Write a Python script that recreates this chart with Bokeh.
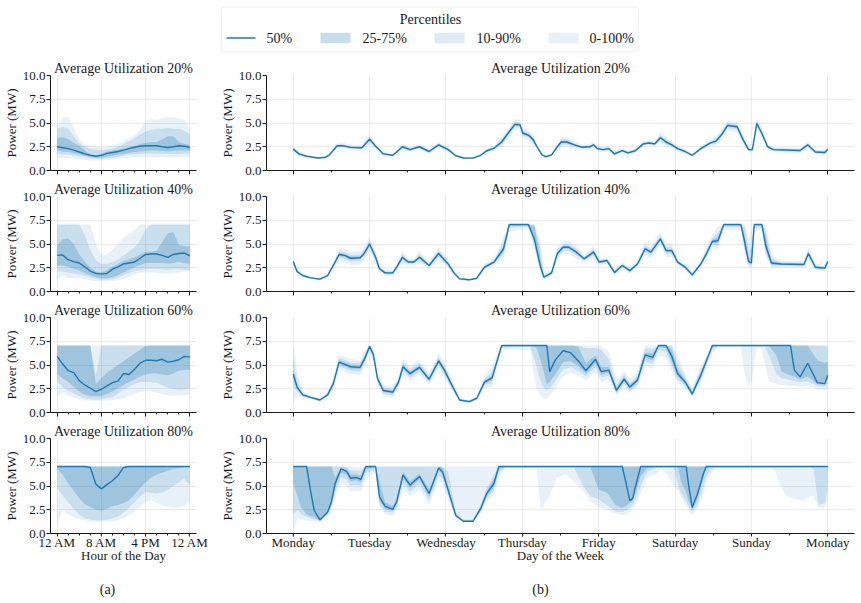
from bokeh.core.properties import value
from bokeh.embed import file_html
from bokeh.layouts import column, row
from bokeh.models import BoxAnnotation, CustomLabelingPolicy, FixedTicker, PrintfTickFormatter, Range1d
from bokeh.plotting import figure
from bokeh.resources import INLINE

FONT = "Liberation Serif"
BLUE = "#1f77b4"
INK = "#1a1a1a"
GRID = "#ececec"

UTILIZATIONS = ["20%", "40%", "60%", "80%"]
HOUR_TICKS = [0, 8, 16, 24]
HOUR_TICK_LABELS = ["12 AM", "8 AM", "4 PM", "12 AM"]
HOUR_MINOR = [2, 4, 6, 10, 12, 14, 18, 20, 22]
DAY_TICKS = [0, 24, 48, 72, 96, 120, 144, 168]
DAY_TICK_LABELS = ["Monday", "Tuesday", "Wednesday", "Thursday", "Friday", "Saturday", "Sunday", "Monday"]
DAY_MINOR = [12, 36, 60, 84, 108, 132, 156]
POWER_TICKS = [0, 2.5, 5, 7.5, 10]

# ---------------- hour-of-day profiles (hours 0..24) ----------------
day_hours = [0, 1, 2, 3, 4, 5, 6, 7, 8, 9, 10, 11, 12, 13, 14, 15, 16, 17, 18, 19, 20, 21, 22, 23, 24]

day20_p50 = [2.5, 2.4, 2.3, 2.15, 1.95, 1.75, 1.6, 1.5, 1.6, 1.8, 1.9, 2.0, 2.15, 2.3, 2.45, 2.55, 2.6, 2.6, 2.6, 2.5, 2.42, 2.5, 2.6, 2.55, 2.45]
day20_p25 = [2.1, 2.0, 1.95, 1.85, 1.7, 1.55, 1.45, 1.35, 1.35, 1.45, 1.55, 1.65, 1.75, 1.85, 1.95, 2.0, 2.05, 2.1, 2.1, 2.05, 2.0, 2.05, 2.1, 2.1, 2.1]
day20_p75 = [3.4, 3.5, 3.3, 2.9, 2.6, 2.1, 1.7, 1.6, 1.7, 2.0, 2.1, 2.2, 2.3, 2.5, 2.6, 2.8, 2.9, 3.0, 3.0, 3.3, 3.6, 3.6, 3.0, 2.8, 2.7]
day20_p10 = [1.75, 1.7, 1.65, 1.6, 1.5, 1.4, 1.3, 1.25, 1.25, 1.3, 1.35, 1.45, 1.55, 1.65, 1.7, 1.75, 1.8, 1.8, 1.8, 1.75, 1.75, 1.75, 1.75, 1.8, 1.8]
day20_p90 = [4.4, 4.6, 4.4, 3.6, 2.9, 2.5, 2.3, 2.2, 2.1, 2.2, 2.3, 2.5, 2.8, 3.1, 3.4, 3.8, 4.1, 4.3, 4.4, 4.4, 4.5, 4.4, 4.4, 4.2, 3.8]
day20_p0 = [1.3, 1.35, 1.3, 1.2, 1.15, 1.1, 1.05, 1.05, 1.05, 1.1, 1.15, 1.2, 1.3, 1.35, 1.4, 1.45, 1.45, 1.45, 1.4, 1.4, 1.35, 1.35, 1.4, 1.4, 1.4]
day20_p100 = [4.6, 5.6, 5.6, 4.5, 3.3, 2.8, 2.6, 2.5, 2.45, 2.5, 2.6, 2.8, 3.1, 3.4, 3.7, 4.3, 5.2, 5.4, 5.3, 5.5, 5.6, 5.6, 5.5, 5.3, 4.4]

day40_p50 = [3.8, 3.85, 3.35, 3.15, 3.0, 2.6, 2.15, 1.9, 1.85, 1.9, 2.35, 2.6, 2.9, 3.0, 3.1, 3.5, 3.9, 3.95, 3.95, 3.8, 3.6, 3.9, 4.0, 4.05, 3.75]
day40_p25 = [2.75, 2.75, 2.6, 2.4, 2.2, 1.95, 1.7, 1.5, 1.4, 1.4, 1.5, 1.7, 2.0, 2.3, 2.55, 2.8, 3.0, 3.0, 3.0, 3.0, 2.95, 3.0, 3.1, 3.0, 2.9]
day40_p75 = [4.9, 5.5, 5.6, 5.0, 3.9, 3.2, 2.5, 2.1, 2.0, 2.2, 2.6, 2.9, 3.25, 3.4, 3.6, 3.9, 4.15, 4.2, 4.3, 5.2, 6.1, 6.3, 4.9, 4.8, 4.7]
day40_p10 = [2.15, 2.1, 2.0, 1.9, 1.8, 1.65, 1.5, 1.35, 1.25, 1.25, 1.3, 1.45, 1.7, 1.95, 2.15, 2.25, 2.35, 2.4, 2.4, 2.35, 2.3, 2.35, 2.35, 2.3, 2.2]
day40_p90 = [7.05, 7.05, 7.05, 7.05, 7.05, 6.0, 4.4, 3.3, 2.9, 2.9, 3.1, 3.4, 3.8, 4.2, 4.6, 5.4, 6.5, 7.05, 7.05, 7.05, 7.05, 7.05, 7.05, 7.05, 7.05]
day40_p0 = [1.15, 1.7, 1.45, 1.4, 1.4, 1.3, 1.15, 1.1, 1.05, 1.05, 1.1, 1.2, 1.3, 1.55, 1.8, 1.95, 2.0, 2.0, 1.95, 1.9, 1.9, 1.95, 2.0, 2.1, 2.15]
day40_p100 = [7.05, 7.05, 7.05, 7.05, 7.05, 7.05, 7.05, 5.0, 3.8, 3.9, 4.4, 5.0, 5.7, 6.1, 6.5, 7.05, 7.05, 7.05, 7.05, 7.05, 7.05, 7.05, 7.05, 7.05, 7.05]

day60_p50 = [5.9, 5.1, 4.4, 4.2, 3.35, 2.9, 2.55, 2.2, 2.45, 2.8, 3.15, 3.3, 4.1, 4.0, 4.55, 5.2, 5.5, 5.5, 5.45, 5.6, 5.3, 5.4, 5.55, 5.9, 5.85]
day60_p25 = [4.0, 3.6, 3.2, 2.7, 2.2, 1.9, 1.75, 1.7, 1.75, 1.95, 2.2, 2.55, 2.9, 3.2, 3.5, 3.8, 4.0, 4.1, 4.1, 4.0, 3.9, 4.1, 4.4, 4.5, 4.5]
day60_p75 = [7.05, 7.05, 7.05, 7.05, 7.05, 7.05, 7.05, 3.0, 3.6, 4.2, 4.6, 5.0, 5.4, 5.8, 6.2, 6.6, 7.0, 7.05, 7.05, 7.05, 7.05, 7.05, 7.05, 7.05, 7.05]
day60_p10 = [3.2, 2.7, 2.3, 2.0, 1.7, 1.5, 1.4, 1.35, 1.4, 1.5, 1.6, 2.0, 2.4, 2.7, 3.0, 3.2, 3.2, 3.2, 3.1, 2.9, 2.6, 2.5, 2.4, 2.45, 2.5]
day60_p90 = [7.05, 7.05, 7.05, 7.05, 7.05, 7.05, 7.05, 3.9, 7.05, 7.05, 7.05, 7.05, 7.05, 7.05, 7.05, 7.05, 7.05, 7.05, 7.05, 7.05, 7.05, 7.05, 7.05, 7.05, 7.05]
day60_p0 = [1.7, 2.1, 1.8, 1.6, 1.4, 1.3, 1.25, 1.2, 1.2, 1.25, 1.3, 1.4, 1.5, 1.75, 2.0, 2.15, 2.2, 2.2, 2.1, 1.95, 1.8, 1.8, 1.8, 1.85, 1.9]
day60_p100 = [7.05, 7.05, 7.05, 7.05, 7.05, 7.05, 7.05, 7.05, 7.05, 7.05, 7.05, 7.05, 7.05, 7.05, 7.05, 7.05, 7.05, 7.05, 7.05, 7.05, 7.05, 7.05, 7.05, 7.05, 7.05]

day80_p50 = [7.05, 7.05, 7.05, 7.05, 7.05, 7.05, 6.95, 5.2, 4.7, 5.15, 5.55, 6.1, 6.95, 7.05, 7.05, 7.05, 7.05, 7.05, 7.05, 7.05, 7.05, 7.05, 7.05, 7.05, 7.05]
day80_p25 = [6.8, 6.2, 5.3, 4.5, 3.7, 3.1, 2.8, 2.5, 2.4, 2.6, 2.9, 3.0, 3.2, 3.5, 4.1, 4.8, 5.4, 5.9, 6.2, 6.4, 6.6, 6.8, 6.9, 7.0, 7.0]
day80_p75 = [7.05, 7.05, 7.05, 7.05, 7.05, 7.05, 7.05, 7.05, 7.05, 7.05, 7.05, 7.05, 7.05, 7.05, 7.05, 7.05, 7.05, 7.05, 7.05, 7.05, 7.05, 7.05, 7.05, 7.05, 7.05]
day80_p10 = [4.8, 4.0, 3.3, 2.6, 2.0, 1.6, 1.45, 1.4, 1.4, 1.45, 1.6, 1.8, 2.2, 2.7, 3.3, 3.9, 4.4, 4.3, 4.2, 4.3, 4.6, 5.0, 5.4, 5.8, 5.0]
day80_p90 = [7.05, 7.05, 7.05, 7.05, 7.05, 7.05, 7.05, 7.05, 7.05, 7.05, 7.05, 7.05, 7.05, 7.05, 7.05, 7.05, 7.05, 7.05, 7.05, 7.05, 7.05, 7.05, 7.05, 7.05, 7.05]
day80_p0 = [1.0, 2.5, 2.0, 1.7, 1.5, 1.4, 1.3, 1.25, 1.25, 1.3, 1.3, 1.4, 1.6, 1.9, 2.3, 2.9, 3.3, 3.5, 3.2, 3.0, 2.8, 2.7, 2.7, 2.9, 3.5]
day80_p100 = [7.05, 7.05, 7.05, 7.05, 7.05, 7.05, 7.05, 7.05, 7.05, 7.05, 7.05, 7.05, 7.05, 7.05, 7.05, 7.05, 7.05, 7.05, 7.05, 7.05, 7.05, 7.05, 7.05, 7.05, 7.05]

# ---------------- day-of-week profiles (hours since Monday 00:00) ----------------
week20_hours = [0.0, 1.8, 4.2, 7.8, 10.2, 11.4, 13.8, 15.6, 18.0, 21.6, 24.0, 25.9, 28.3, 31.3, 32.5, 34.3, 36.7, 39.7, 42.7, 45.7,
                48.7, 51.1, 53.5, 56.5, 58.9, 60.7, 63.1, 65.5, 67.9, 69.7, 71.3, 72.1, 74.0, 75.4, 76.6, 78.2, 79.4, 81.2, 83.0, 84.2,
                86.0, 88.4, 90.8, 93.2, 94.4, 95.6, 97.4, 99.2, 101.0, 103.4, 105.2, 107.6, 110.0, 111.8, 113.6, 115.4, 117.2, 119.0, 120.8, 123.2,
                125.4, 128.1, 131.1, 132.9, 134.7, 136.5, 139.5, 141.3, 143.1, 144.3, 145.7, 147.3, 149.1, 150.9, 159.3, 161.7, 164.1, 167.1, 168.0]
week20_p50 = [2.25, 1.75, 1.5, 1.32, 1.4, 1.65, 2.6, 2.62, 2.43, 2.4, 3.3, 2.55, 1.75, 1.6, 1.95, 2.5, 2.2, 2.5, 2.0, 2.7,
              2.2, 1.55, 1.32, 1.3, 1.6, 2.05, 2.35, 3.0, 4.1, 4.85, 4.8, 3.95, 3.7, 3.25, 2.5, 1.65, 1.45, 1.65, 2.5, 3.0,
              3.0, 2.7, 2.45, 2.5, 2.7, 2.3, 2.2, 2.3, 1.75, 2.1, 1.85, 2.1, 2.8, 2.9, 2.8, 3.45, 3.0, 2.7, 2.3, 2.0,
              1.6, 2.3, 2.9, 3.1, 3.8, 4.75, 4.6, 3.3, 2.2, 2.2, 4.95, 3.9, 2.5, 2.2, 2.1, 2.7, 1.95, 1.9, 2.25]
week20_p25 = [2.19, 1.69, 1.47, 1.29, 1.37, 1.62, 2.54, 2.56, 2.37, 2.34, 3.18, 2.49, 1.69, 1.57, 1.89, 2.44, 2.14, 2.44, 1.94, 2.64,
              2.14, 1.52, 1.29, 1.27, 1.57, 1.99, 2.29, 2.88, 3.98, 4.73, 4.68, 3.83, 3.58, 3.13, 2.44, 1.62, 1.42, 1.62, 2.44, 2.88,
              2.88, 2.64, 2.39, 2.44, 2.64, 2.24, 2.14, 2.24, 1.69, 2.04, 1.79, 2.04, 2.74, 2.84, 2.74, 3.33, 2.88, 2.64, 2.24, 1.94,
              1.57, 2.24, 2.84, 2.98, 3.68, 4.63, 4.48, 3.18, 2.14, 2.14, 4.83, 3.78, 2.44, 2.14, 2.04, 2.64, 1.89, 1.84, 2.19]
week20_p75 = [2.31, 1.81, 1.53, 1.35, 1.43, 1.68, 2.66, 2.68, 2.49, 2.46, 3.42, 2.61, 1.81, 1.63, 2.01, 2.56, 2.26, 2.56, 2.06, 2.76,
              2.26, 1.58, 1.35, 1.33, 1.63, 2.11, 2.41, 3.12, 4.22, 4.97, 4.92, 4.07, 3.82, 3.37, 2.56, 1.68, 1.48, 1.68, 2.56, 3.12,
              3.12, 2.76, 2.51, 2.56, 2.76, 2.36, 2.26, 2.36, 1.81, 2.16, 1.91, 2.16, 2.86, 2.96, 2.86, 3.57, 3.12, 2.76, 2.36, 2.06,
              1.63, 2.36, 2.96, 3.22, 3.92, 4.87, 4.72, 3.42, 2.26, 2.26, 5.07, 4.02, 2.56, 2.26, 2.16, 2.76, 2.01, 1.96, 2.31]
week20_p10 = [2.11, 1.61, 1.44, 1.26, 1.34, 1.59, 2.46, 2.48, 2.29, 2.26, 3.02, 2.41, 1.61, 1.54, 1.81, 2.36, 2.06, 2.36, 1.86, 2.56,
              2.06, 1.49, 1.26, 1.24, 1.54, 1.91, 2.21, 2.72, 3.82, 4.57, 4.52, 3.67, 3.42, 2.97, 2.36, 1.59, 1.39, 1.59, 2.36, 2.72,
              2.72, 2.56, 2.31, 2.36, 2.56, 2.16, 2.06, 2.16, 1.61, 1.96, 1.71, 1.96, 2.66, 2.76, 2.66, 3.17, 2.72, 2.56, 2.16, 1.86,
              1.54, 2.16, 2.76, 2.82, 3.52, 4.47, 4.32, 3.02, 2.06, 2.06, 4.67, 3.62, 2.36, 2.06, 1.96, 2.56, 1.81, 1.76, 2.11]
week20_p90 = [2.39, 1.89, 1.56, 1.38, 1.46, 1.71, 2.74, 2.76, 2.57, 2.54, 3.58, 2.69, 1.89, 1.66, 2.09, 2.64, 2.34, 2.64, 2.14, 2.84,
              2.34, 1.61, 1.38, 1.36, 1.66, 2.19, 2.49, 3.28, 4.38, 5.13, 5.08, 4.23, 3.98, 3.53, 2.64, 1.71, 1.51, 1.71, 2.64, 3.28,
              3.28, 2.84, 2.59, 2.64, 2.84, 2.44, 2.34, 2.44, 1.89, 2.24, 1.99, 2.24, 2.94, 3.04, 2.94, 3.73, 3.28, 2.84, 2.44, 2.14,
              1.66, 2.44, 3.04, 3.38, 4.08, 5.03, 4.88, 3.58, 2.34, 2.34, 5.23, 4.18, 2.64, 2.34, 2.24, 2.84, 2.09, 2.04, 2.39]
week20_p0 = [1.97, 1.47, 1.38, 1.2, 1.28, 1.53, 2.32, 2.34, 2.15, 2.12, 2.75, 2.27, 1.47, 1.48, 1.67, 2.22, 1.92, 2.22, 1.72, 2.42,
             1.92, 1.43, 1.2, 1.18, 1.48, 1.77, 2.07, 2.45, 3.55, 4.3, 4.25, 3.4, 3.15, 2.7, 2.22, 1.53, 1.33, 1.53, 2.22, 2.45,
             2.45, 2.42, 2.17, 2.22, 2.42, 2.02, 1.92, 2.02, 1.47, 1.82, 1.57, 1.82, 2.52, 2.62, 2.52, 2.9, 2.45, 2.42, 2.02, 1.72,
             1.48, 2.02, 2.62, 2.55, 3.25, 4.2, 4.05, 2.75, 1.92, 1.92, 4.4, 3.35, 2.22, 1.92, 1.82, 2.42, 1.67, 1.62, 1.97]
week20_p100 = [2.53, 2.03, 1.62, 1.44, 1.52, 1.77, 2.88, 2.9, 2.71, 2.68, 3.85, 2.83, 2.03, 1.72, 2.23, 2.78, 2.48, 2.78, 2.28, 2.98,
               2.48, 1.67, 1.44, 1.42, 1.72, 2.33, 2.63, 3.55, 4.65, 5.4, 5.35, 4.5, 4.25, 3.8, 2.78, 1.77, 1.57, 1.77, 2.78, 3.55,
               3.55, 2.98, 2.73, 2.78, 2.98, 2.58, 2.48, 2.58, 2.03, 2.38, 2.13, 2.38, 3.08, 3.18, 3.08, 4.0, 3.55, 2.98, 2.58, 2.28,
               1.72, 2.58, 3.18, 3.65, 4.35, 5.3, 5.15, 3.85, 2.48, 2.48, 5.5, 4.45, 2.78, 2.48, 2.38, 2.98, 2.23, 2.18, 2.53]

week40_hours = [0.0, 1.2, 3.0, 5.4, 8.4, 10.8, 12.6, 14.4, 16.2, 18.0, 21.0, 22.2, 24.0, 25.9, 27.1, 28.9, 31.3, 32.5, 34.3, 36.1,
                37.9, 39.7, 42.7, 45.7, 48.7, 50.5, 52.3, 55.3, 57.7, 60.1, 63.1, 66.1, 67.9, 73.9, 75.8, 77.6, 78.8, 81.2, 83.0, 84.8,
                86.6, 89.0, 91.4, 94.4, 96.2, 98.6, 101.0, 103.4, 105.8, 108.2, 110.6, 112.4, 115.4, 117.2, 119.0, 120.8, 123.2, 125.4, 128.1, 129.9,
                131.7, 133.5, 135.3, 140.7, 141.9, 143.1, 144.0, 144.9, 147.3, 148.5, 150.3, 153.3, 160.5, 161.9, 164.1, 167.1, 168.0]
week40_p50 = [3.16, 2.1, 1.68, 1.44, 1.3, 1.68, 2.74, 3.9, 3.8, 3.5, 3.55, 3.96, 5.0, 3.6, 2.4, 1.96, 1.96, 2.56, 3.6, 3.1,
              3.1, 3.6, 2.74, 4.0, 2.9, 1.96, 1.33, 1.23, 1.4, 2.56, 3.1, 4.5, 7.05, 7.05, 5.5, 2.74, 1.5, 1.96, 4.0, 4.66,
              4.66, 4.14, 3.44, 4.14, 3.1, 3.26, 2.0, 2.74, 2.2, 2.9, 4.5, 4.14, 5.54, 4.3, 4.3, 3.1, 2.56, 1.75, 2.9, 4.0,
              5.26, 5.36, 7.05, 7.05, 5.2, 3.16, 3.0, 7.05, 7.05, 4.84, 3.0, 2.9, 2.84, 4.0, 2.56, 2.46, 3.16]
week40_p25 = [3.08, 2.02, 1.64, 1.4, 1.26, 1.64, 2.66, 3.75, 3.65, 3.35, 3.4, 3.81, 4.85, 3.45, 2.32, 1.88, 1.88, 2.48, 3.45, 3.02,
              3.02, 3.45, 2.66, 3.85, 2.82, 1.88, 1.29, 1.19, 1.36, 2.48, 3.02, 4.2, 6.9, 6.95, 5.2, 2.5, 1.45, 1.88, 3.85, 4.51,
              4.51, 3.99, 3.36, 3.99, 3.02, 3.18, 1.92, 2.66, 2.12, 2.82, 4.35, 3.99, 5.39, 4.15, 4.15, 3.02, 2.48, 1.67, 2.82, 3.85,
              5.11, 5.1, 6.95, 6.95, 4.8, 3.0, 2.9, 6.95, 6.95, 4.4, 2.85, 2.82, 2.76, 3.85, 2.48, 2.38, 3.08]
week40_p75 = [3.24, 2.18, 1.72, 1.48, 1.34, 1.72, 2.82, 4.05, 3.95, 3.65, 3.7, 4.11, 5.15, 3.75, 2.48, 2.04, 2.04, 2.64, 3.75, 3.18,
              3.18, 3.75, 2.82, 4.15, 2.98, 2.04, 1.37, 1.27, 1.44, 2.64, 3.18, 4.8, 7.05, 7.05, 6.9, 3.6, 1.6, 2.04, 4.15, 4.81,
              4.81, 4.29, 3.52, 4.29, 3.18, 3.34, 2.08, 2.82, 2.28, 2.98, 4.65, 4.29, 5.69, 4.45, 4.45, 3.18, 2.64, 1.83, 2.98, 4.15,
              5.41, 5.7, 7.05, 7.05, 6.0, 3.5, 3.6, 7.05, 7.05, 5.6, 3.2, 2.98, 2.92, 4.15, 2.64, 2.54, 3.24]
week40_p10 = [2.98, 1.92, 1.6, 1.36, 1.22, 1.6, 2.56, 3.55, 3.45, 3.15, 3.2, 3.61, 4.65, 3.25, 2.22, 1.78, 1.78, 2.38, 3.25, 2.92,
              2.92, 3.25, 2.56, 3.65, 2.72, 1.78, 1.25, 1.15, 1.32, 2.38, 2.92, 3.9, 6.7, 6.85, 4.9, 2.3, 1.4, 1.78, 3.65, 4.31,
              4.31, 3.79, 3.26, 3.79, 2.92, 3.08, 1.82, 2.56, 2.02, 2.72, 4.15, 3.79, 5.19, 3.95, 3.95, 2.92, 2.38, 1.57, 2.72, 3.65,
              4.91, 4.8, 6.8, 6.8, 4.3, 2.8, 2.7, 6.7, 6.7, 4.0, 2.7, 2.72, 2.66, 3.65, 2.38, 2.28, 2.98]
week40_p90 = [3.34, 2.28, 1.76, 1.52, 1.38, 1.76, 2.92, 4.25, 4.15, 3.85, 3.9, 4.31, 5.35, 3.95, 2.58, 2.14, 2.14, 2.74, 3.95, 3.28,
              3.28, 3.95, 2.92, 4.35, 3.08, 2.14, 1.41, 1.31, 1.48, 2.74, 3.28, 5.2, 7.05, 7.05, 7.05, 4.6, 1.75, 2.14, 4.35, 5.01,
              5.01, 4.49, 3.62, 4.49, 3.28, 3.44, 2.18, 2.92, 2.38, 3.08, 4.85, 4.49, 5.89, 4.65, 4.65, 3.28, 2.74, 1.93, 3.08, 4.35,
              5.61, 6.2, 7.05, 7.05, 6.8, 4.2, 4.8, 7.05, 7.05, 6.4, 3.5, 3.08, 3.02, 4.35, 2.74, 2.64, 3.34]
week40_p0 = [2.81, 1.75, 1.53, 1.29, 1.15, 1.53, 2.39, 3.2, 3.1, 2.8, 2.85, 3.26, 4.3, 2.9, 2.05, 1.61, 1.61, 2.21, 2.9, 2.75,
             2.75, 2.9, 2.39, 3.3, 2.55, 1.61, 1.18, 1.08, 1.25, 2.21, 2.75, 3.5, 6.3, 6.6, 4.5, 2.0, 1.3, 1.61, 3.3, 3.96,
             3.96, 3.44, 3.09, 3.44, 2.75, 2.91, 1.65, 2.39, 1.85, 2.55, 3.8, 3.44, 4.84, 3.6, 3.6, 2.75, 2.21, 1.4, 2.55, 3.3,
             4.56, 4.4, 6.5, 6.5, 3.8, 2.5, 2.5, 6.4, 6.4, 3.6, 2.5, 2.55, 2.49, 3.3, 2.21, 2.11, 2.81]
week40_p100 = [3.51, 2.45, 1.83, 1.59, 1.45, 1.83, 3.09, 4.6, 4.5, 4.2, 4.25, 4.66, 5.7, 4.3, 2.75, 2.31, 2.31, 2.91, 4.3, 3.45,
               3.45, 4.3, 3.09, 4.7, 3.25, 2.31, 1.48, 1.38, 1.55, 2.91, 3.45, 5.8, 7.05, 7.05, 7.05, 5.5, 2.0, 2.31, 4.7, 5.36,
               5.36, 4.84, 3.79, 4.84, 3.45, 3.61, 2.35, 3.09, 2.55, 3.25, 5.2, 4.84, 6.24, 5.0, 5.0, 3.45, 2.91, 2.1, 3.25, 4.7,
               5.96, 6.8, 7.05, 7.05, 7.05, 5.5, 6.5, 7.05, 7.05, 7.0, 3.9, 3.25, 3.19, 4.7, 2.91, 2.81, 3.51]

week60_hours = [0.0, 1.2, 3.0, 5.4, 8.4, 10.8, 12.6, 14.4, 16.2, 18.0, 21.0, 22.5, 24.0, 25.2, 26.5, 28.3, 31.3, 33.1, 34.5, 36.7,
                39.7, 42.7, 45.7, 47.5, 49.9, 52.3, 55.3, 57.7, 60.1, 62.5, 65.5, 74.5, 76.4, 78.2, 79.7, 80.6, 82.4, 84.8, 87.2, 89.6,
                92.0, 95.0, 96.8, 99.2, 101.6, 104.0, 105.8, 108.2, 110.6, 113.0, 114.8, 117.2, 119.0, 120.8, 123.2, 125.4, 128.1, 131.7, 133.5, 140.7,
                141.9, 143.1, 144.3, 145.5, 147.0, 148.3, 149.5, 151.9, 153.5, 156.3, 157.5, 159.3, 161.7, 164.7, 167.1, 168.0]
week60_p50 = [4.04, 2.68, 1.86, 1.6, 1.32, 1.86, 3.04, 5.3, 5.07, 4.82, 4.75, 5.7, 6.96, 6.07, 3.57, 2.32, 2.14, 3.2, 4.82, 4.1,
              4.75, 3.5, 5.43, 4.46, 2.86, 1.32, 1.14, 1.5, 3.2, 3.64, 7.05, 7.05, 7.05, 7.05, 7.05, 4.3, 5.54, 6.5, 6.3, 5.43,
              4.4, 5.6, 4.3, 4.46, 2.32, 3.5, 2.68, 3.4, 6.07, 5.8, 7.05, 7.05, 5.9, 4.1, 3.2, 1.96, 3.93, 7.05, 7.05, 7.05,
              7.05, 7.05, 7.05, 7.05, 7.05, 7.05, 7.05, 7.05, 7.05, 7.05, 4.46, 3.75, 5.18, 3.14, 3.04, 3.93]
week60_p25 = [3.6, 2.5, 1.78, 1.55, 1.27, 1.8, 2.89, 5.1, 4.87, 4.62, 4.55, 5.5, 6.8, 5.87, 3.42, 2.17, 1.99, 3.05, 4.62, 3.9,
              4.55, 3.35, 5.23, 4.26, 2.71, 1.27, 1.09, 1.45, 3.05, 3.4, 6.95, 7.0, 6.9, 5.0, 3.0, 3.2, 4.0, 5.3, 5.4, 4.9,
              4.1, 5.2, 4.0, 4.2, 2.15, 3.3, 2.5, 3.2, 5.8, 5.5, 6.9, 6.8, 5.4, 3.8, 3.0, 1.85, 3.7, 6.9, 7.0, 7.0,
              7.0, 7.0, 7.0, 7.0, 7.0, 7.0, 7.0, 6.0, 4.3, 3.9, 3.8, 3.5, 3.8, 3.0, 2.9, 3.6]
week60_p75 = [4.6, 2.9, 1.95, 1.65, 1.37, 1.92, 3.19, 5.5, 5.27, 5.02, 4.95, 5.9, 7.05, 6.27, 3.72, 2.47, 2.29, 3.35, 5.02, 4.3,
              4.95, 3.65, 5.63, 4.66, 3.01, 1.37, 1.19, 1.55, 3.35, 3.9, 7.05, 7.05, 7.05, 7.05, 7.05, 7.05, 7.05, 7.05, 7.05, 6.9,
              5.2, 6.0, 4.8, 4.8, 2.6, 3.75, 2.9, 3.65, 6.3, 6.2, 7.05, 7.05, 6.6, 4.5, 3.45, 2.1, 4.2, 7.05, 7.05, 7.05,
              7.05, 7.05, 7.05, 7.05, 7.05, 7.05, 7.05, 7.05, 7.05, 7.05, 7.05, 7.05, 7.05, 5.5, 5.2, 5.3]
week60_p10 = [2.8, 2.2, 1.7, 1.5, 1.22, 1.74, 2.69, 4.85, 4.62, 4.37, 4.3, 5.25, 6.6, 5.62, 3.22, 1.97, 1.79, 2.85, 4.37, 3.65,
              4.3, 3.15, 4.98, 4.01, 2.51, 1.22, 1.04, 1.4, 2.85, 3.1, 6.85, 6.9, 5.0, 2.8, 2.4, 2.5, 3.3, 4.5, 4.8, 4.4,
              3.8, 4.8, 3.7, 3.9, 2.0, 3.05, 2.3, 2.95, 5.4, 5.1, 6.6, 6.4, 4.9, 3.5, 2.8, 1.75, 3.45, 6.6, 6.95, 6.95,
              6.9, 6.9, 6.9, 6.95, 6.95, 6.9, 6.0, 4.0, 3.6, 3.4, 3.3, 3.2, 3.3, 2.8, 2.7, 3.0]
week60_p90 = [5.8, 3.4, 2.05, 1.7, 1.42, 1.98, 3.39, 5.75, 5.52, 5.27, 5.2, 6.15, 7.05, 6.52, 3.92, 2.67, 2.49, 3.55, 5.27, 4.55,
              5.2, 3.85, 5.88, 4.91, 3.21, 1.42, 1.24, 1.6, 3.55, 4.3, 7.05, 7.05, 7.05, 7.05, 7.05, 7.05, 7.05, 7.05, 7.05, 7.05,
              6.8, 6.8, 6.6, 5.6, 2.9, 4.0, 3.1, 3.9, 6.7, 6.7, 7.05, 7.05, 7.05, 5.2, 3.7, 2.3, 4.5, 7.05, 7.05, 7.05,
              7.05, 7.05, 7.05, 7.05, 7.05, 7.05, 7.05, 7.05, 7.05, 7.05, 7.05, 7.05, 7.05, 7.05, 7.0, 6.8]
week60_p0 = [1.0, 1.7, 1.55, 1.4, 1.12, 1.64, 2.44, 4.5, 4.27, 4.02, 3.95, 4.9, 6.3, 5.27, 2.97, 1.72, 1.54, 2.6, 4.02, 3.3,
             3.95, 2.9, 4.63, 3.66, 2.26, 1.12, 0.94, 1.3, 2.6, 2.7, 6.6, 6.6, 2.5, 1.6, 1.4, 1.8, 2.6, 3.8, 4.2, 3.9,
             3.4, 4.2, 3.2, 3.5, 1.8, 2.75, 2.05, 2.65, 4.9, 4.6, 6.0, 5.8, 4.3, 3.1, 2.5, 1.6, 3.1, 6.2, 6.85, 6.85,
             4.0, 2.7, 3.5, 6.8, 6.85, 5.0, 3.3, 3.0, 2.9, 2.8, 2.8, 2.7, 2.8, 2.5, 2.4, 2.5]
week60_p100 = [7.05, 4.5, 2.25, 1.8, 1.52, 2.1, 3.64, 6.1, 5.87, 5.62, 5.55, 6.5, 7.05, 6.87, 4.17, 2.92, 2.74, 3.8, 5.62, 4.9,
               5.55, 4.1, 6.23, 5.26, 3.46, 1.52, 1.34, 1.7, 3.8, 4.9, 7.05, 7.05, 7.05, 7.05, 7.05, 7.05, 7.05, 7.05, 7.05, 7.05,
               7.05, 7.05, 7.0, 6.4, 3.4, 4.4, 3.5, 4.3, 7.05, 7.05, 7.05, 7.05, 7.05, 6.0, 4.1, 2.6, 4.9, 7.05, 7.05, 7.05,
               7.05, 7.05, 7.05, 7.05, 7.05, 7.05, 7.05, 7.05, 7.05, 7.05, 7.05, 7.05, 7.05, 7.05, 7.05, 7.05]

week80_hours = [0.0, 1.4, 2.4, 4.2, 5.4, 6.6, 8.4, 10.8, 12.0, 13.2, 15.0, 16.8, 18.0, 19.8, 21.3, 22.8, 25.9, 27.1, 28.9, 31.3,
                32.5, 34.5, 36.7, 39.7, 42.7, 45.7, 46.9, 48.7, 51.1, 53.5, 56.5, 58.9, 60.7, 63.1, 64.6, 66.5, 76.5, 77.8, 80.4, 83.0,
                85.6, 88.2, 90.8, 93.4, 96.0, 98.6, 101.3, 103.4, 104.6, 105.8, 106.7, 107.6, 109.2, 111.3, 113.9, 115.5, 117.6, 119.6, 121.0, 121.8,
                123.5, 124.3, 125.4, 127.0, 129.0, 129.8, 131.2, 132.7, 150.0, 151.6, 153.1, 155.2, 158.3, 160.4, 162.5, 163.5, 165.1, 167.2, 168.0]
week80_p50 = [7.05, 7.05, 7.05, 7.05, 4.57, 2.43, 1.43, 2.25, 3.32, 5.3, 6.8, 6.53, 5.82, 5.89, 5.71, 7.05, 7.05, 3.86, 2.86, 2.54,
              3.32, 6.18, 5.1, 6.0, 4.21, 6.9, 6.53, 4.57, 1.89, 1.29, 1.29, 2.61, 4.14, 5.29, 7.05, 7.05, 7.05, 7.05, 7.05, 7.05,
              7.05, 7.05, 7.05, 7.05, 7.05, 7.05, 7.05, 7.05, 5.3, 3.45, 3.7, 5.0, 7.05, 7.05, 7.05, 7.05, 7.05, 7.05, 7.05, 7.05,
              7.05, 5.0, 2.75, 4.1, 6.4, 7.05, 7.05, 7.05, 7.05, 7.05, 7.05, 7.05, 7.05, 7.05, 7.05, 7.05, 7.05, 7.05, 7.05]
week80_p25 = [5.3, 3.9, 2.8, 2.0, 1.85, 1.7, 1.38, 2.1, 3.1, 4.9, 6.4, 6.2, 5.5, 5.6, 5.4, 6.8, 6.9, 3.5, 2.6, 2.4,
              3.1, 5.8, 4.8, 5.7, 3.9, 6.6, 6.2, 4.3, 1.8, 1.25, 1.25, 2.45, 3.9, 4.9, 6.8, 7.0, 7.0, 7.0, 7.0, 7.0,
              7.0, 7.0, 7.0, 7.0, 4.6, 4.3, 3.0, 2.7, 2.9, 3.2, 3.5, 4.3, 6.0, 6.9, 7.0, 7.0, 7.0, 7.0, 7.0, 5.5,
              4.3, 3.4, 2.6, 3.6, 6.0, 6.8, 7.0, 7.0, 7.0, 7.0, 7.0, 7.0, 7.0, 7.0, 7.0, 7.0, 7.0, 7.0, 7.0]
week80_p75 = [7.05, 7.05, 7.05, 7.05, 7.05, 7.05, 7.05, 7.05, 7.05, 5.9, 7.0, 6.8, 6.2, 6.2, 6.1, 7.05, 7.05, 5.5, 3.3, 2.9,
              3.7, 6.5, 5.5, 6.3, 4.6, 7.05, 6.9, 5.0, 2.0, 1.35, 1.35, 2.8, 4.4, 5.7, 7.05, 7.05, 7.05, 7.05, 7.05, 7.05,
              7.05, 7.05, 7.05, 7.05, 7.05, 7.05, 7.05, 7.05, 7.05, 7.05, 7.05, 7.05, 7.05, 7.05, 7.05, 7.05, 7.05, 7.05, 7.05, 7.05,
              7.05, 7.05, 7.05, 7.05, 7.05, 7.05, 7.05, 7.05, 7.05, 7.05, 7.05, 7.05, 7.05, 7.05, 7.05, 7.05, 7.05, 7.05, 7.05]
week80_p10 = [2.0, 2.5, 2.1, 1.75, 1.6, 1.5, 1.33, 1.95, 2.8, 4.4, 5.9, 5.7, 5.0, 5.1, 5.0, 6.4, 6.7, 3.1, 2.3, 2.2,
              2.8, 5.3, 4.4, 5.2, 3.5, 6.1, 5.8, 4.0, 1.7, 1.2, 1.2, 2.3, 3.6, 4.5, 6.4, 6.95, 6.95, 6.95, 6.95, 6.95,
              6.95, 6.95, 5.2, 3.9, 3.6, 3.0, 2.3, 2.3, 2.4, 2.7, 3.0, 3.6, 5.0, 6.5, 6.9, 6.95, 6.95, 6.9, 5.0, 4.3,
              3.4, 2.8, 2.3, 3.0, 5.0, 6.0, 6.7, 6.95, 6.95, 6.95, 6.95, 6.95, 6.95, 6.95, 6.95, 6.8, 3.0, 3.2, 5.0]
week80_p90 = [7.05, 7.05, 7.05, 7.05, 7.05, 7.05, 7.05, 7.05, 7.05, 7.05, 7.05, 7.0, 6.6, 6.6, 6.6, 7.05, 7.05, 7.05, 7.05, 7.05,
              7.05, 7.05, 7.05, 7.05, 7.05, 7.05, 7.05, 6.5, 2.2, 1.45, 1.45, 3.0, 4.7, 6.2, 7.05, 7.05, 7.05, 7.05, 7.05, 7.05,
              7.05, 7.05, 7.05, 7.05, 7.05, 7.05, 7.05, 7.05, 7.05, 7.05, 7.05, 7.05, 7.05, 7.05, 7.05, 7.05, 7.05, 7.05, 7.05, 7.05,
              7.05, 7.05, 7.05, 7.05, 7.05, 7.05, 7.05, 7.05, 7.05, 7.05, 7.05, 7.05, 7.05, 7.05, 7.05, 7.05, 7.05, 7.05, 7.05]
week80_p0 = [0.3, 1.6, 1.5, 1.4, 1.35, 1.3, 1.25, 1.7, 2.4, 3.8, 5.2, 5.0, 4.4, 4.5, 4.4, 5.8, 6.4, 2.7, 2.0, 1.9,
             2.4, 4.7, 3.9, 4.6, 3.0, 5.5, 5.2, 3.6, 1.55, 1.15, 1.15, 2.1, 3.3, 4.0, 5.8, 6.85, 6.85, 2.5, 3.9, 5.9,
             6.25, 5.5, 4.6, 3.4, 2.7, 2.5, 2.1, 1.96, 2.0, 2.3, 2.6, 3.0, 4.2, 5.9, 6.2, 6.85, 6.25, 5.0, 4.5, 3.9,
             2.9, 2.4, 2.0, 2.6, 4.3, 5.3, 6.3, 6.85, 6.85, 6.5, 5.0, 3.9, 3.6, 3.4, 4.0, 3.9, 2.7, 2.8, 4.0]
week80_p100 = [7.05, 7.05, 7.05, 7.05, 7.05, 7.05, 7.05, 7.05, 7.05, 7.05, 7.05, 7.05, 7.0, 7.0, 7.05, 7.05, 7.05, 7.05, 7.05, 7.05,
               7.05, 7.05, 7.05, 7.05, 7.05, 7.05, 7.05, 7.05, 7.05, 7.05, 7.05, 7.05, 7.05, 7.05, 7.05, 7.05, 7.05, 7.05, 7.05, 7.05,
               7.05, 7.05, 7.05, 7.05, 7.05, 7.05, 7.05, 7.05, 7.05, 7.05, 7.05, 7.05, 7.05, 7.05, 7.05, 7.05, 7.05, 7.05, 7.05, 7.05,
               7.05, 7.05, 7.05, 7.05, 7.05, 7.05, 7.05, 7.05, 7.05, 7.05, 7.05, 7.05, 7.05, 7.05, 7.05, 7.05, 7.05, 7.05, 7.05]

DAILY = {
    "20%": (day_hours, day20_p0, day20_p10, day20_p25, day20_p50, day20_p75, day20_p90, day20_p100),
    "40%": (day_hours, day40_p0, day40_p10, day40_p25, day40_p50, day40_p75, day40_p90, day40_p100),
    "60%": (day_hours, day60_p0, day60_p10, day60_p25, day60_p50, day60_p75, day60_p90, day60_p100),
    "80%": (day_hours, day80_p0, day80_p10, day80_p25, day80_p50, day80_p75, day80_p90, day80_p100),
}
WEEKLY = {
    "20%": (week20_hours, week20_p0, week20_p10, week20_p25, week20_p50, week20_p75, week20_p90, week20_p100),
    "40%": (week40_hours, week40_p0, week40_p10, week40_p25, week40_p50, week40_p75, week40_p90, week40_p100),
    "60%": (week60_hours, week60_p0, week60_p10, week60_p25, week60_p50, week60_p75, week60_p90, week60_p100),
    "80%": (week80_hours, week80_p0, week80_p10, week80_p25, week80_p50, week80_p75, week80_p90, week80_p100),
}

BAND_ALPHAS = [0.10, 0.15, 0.25]  # 0-100%, 10-90%, 25-75%

LEFT_W, RIGHT_W = 215, 646
ROW_H = 121
TOP_PAD, BOTTOM_PAD, LAST_BOTTOM_PAD = 20, 6, 40

# x axes of the upper rows carry ticks only; their labels are dropped
NO_LABELS = CustomLabelingPolicy(code="return []")


def style_axes(p, ticks, minor, labels, show_labels, xlabel):
    p.outline_line_color = None
    p.background_fill_color = "white"
    p.border_fill_color = "white"
    for ax in (p.xaxis[0], p.yaxis[0]):
        ax.axis_line_color = INK
        ax.axis_line_width = 1
        ax.major_tick_line_color = INK
        ax.minor_tick_line_color = INK
        ax.major_tick_in = 0
        ax.major_tick_out = 4
        ax.minor_tick_in = 0
        ax.minor_tick_out = 2
        ax.major_label_text_font = FONT
        ax.major_label_text_font_size = "13px"
        ax.major_label_text_color = INK
        ax.axis_label_text_font = FONT
        ax.axis_label_text_font_size = "13px"
        ax.axis_label_text_font_style = "normal"
        ax.axis_label_text_color = INK

    ya = p.yaxis[0]
    ya.ticker = FixedTicker(ticks=POWER_TICKS, minor_ticks=[])
    ya.formatter = PrintfTickFormatter(format="%.1f")
    ya.axis_label = "Power (MW)"
    ya.major_label_standoff = 1
    ya.axis_label_standoff = 1

    xa = p.xaxis[0]
    xa.ticker = FixedTicker(ticks=ticks, minor_ticks=minor)
    xa.major_label_overrides = {t: lab for t, lab in zip(ticks, labels)}
    if show_labels:
        xa.major_tick_out = 3
        xa.major_label_standoff = -2
        xa.axis_label = xlabel
        xa.axis_label_standoff = -5
    else:
        xa.major_label_policy = NO_LABELS
        xa.major_label_text_font_size = "0px"
        xa.major_label_standoff = 0

    p.xgrid.grid_line_color = GRID
    p.ygrid.grid_line_color = GRID
    p.xgrid.grid_line_width = 1
    p.ygrid.grid_line_width = 1


def panel(series, util, width, x_range, ticks, minor, labels, last, xlabel, left_pad, right_pad):
    hours, p0, p10, p25, p50, p75, p90, p100 = series
    bottom = LAST_BOTTOM_PAD if last else BOTTOM_PAD
    p = figure(width=width, height=TOP_PAD + 95 + bottom, x_range=Range1d(*x_range), y_range=Range1d(0, 10),
               output_backend="svg", toolbar_location=None,
               min_border_left=left_pad, min_border_right=right_pad,
               min_border_top=TOP_PAD, min_border_bottom=bottom)
    for (lo, hi), alpha in zip([(p0, p100), (p10, p90), (p25, p75)], BAND_ALPHAS):
        p.varea(x=hours, y1=lo, y2=hi, fill_color=BLUE, fill_alpha=alpha)
    p.line(x=hours, y=p50, line_color=BLUE, line_width=1.4)

    p.title.text = f"Average Utilization {util}"
    p.title.align = "center"
    p.title.text_font = FONT
    p.title.text_font_size = "14px"
    p.title.text_font_style = "normal"
    p.title.text_color = INK
    p.title.standoff = 0

    style_axes(p, ticks, minor, labels, last, xlabel)
    return p


rows = []
for i, util in enumerate(UTILIZATIONS):
    last = i == len(UTILIZATIONS) - 1
    left = panel(DAILY[util], util, LEFT_W, (-1.2, 25.2), HOUR_TICKS, HOUR_MINOR, HOUR_TICK_LABELS,
                 last, "Hour of the Day", 47, 19)
    right = panel(WEEKLY[util], util, RIGHT_W, (-8.4, 176.4), DAY_TICKS, DAY_MINOR, DAY_TICK_LABELS,
                  last, "Day of the Week", 51, 7)
    rows.append(row(left, right))

# Legend strip
LEGEND_H = 55
leg = figure(width=861, height=LEGEND_H, x_range=Range1d(0, 861), y_range=Range1d(0, LEGEND_H),
             x_axis_type=None, y_axis_type=None, output_backend="svg", toolbar_location=None, min_border=0)
leg.outline_line_color = None
leg.add_layout(BoxAnnotation(left=221, right=638, bottom=4, top=48.5, fill_color="white", fill_alpha=1,
                             line_color="#cfcfcf", line_width=1, border_radius=3, level="underlay"))
leg.text(x=[430], y=[36.5], text=["Percentiles"], text_font=value(FONT), text_font_size="14px",
         text_align="center", text_baseline="middle", text_color=INK)
leg.line(x=[226, 255], y=[17.5, 17.5], line_color=BLUE, line_width=1.4)
leg.quad(left=[320, 434, 548], right=[350, 464, 578], bottom=12.3, top=22.7,
         fill_color=BLUE, fill_alpha=[0.25, 0.15, 0.10], line_color=None)
leg.text(x=[266, 362, 476, 589], y=[17.5, 17.5, 17.5, 17.5], text=["50%", "25-75%", "10-90%", "0-100%"],
         text_font=value(FONT), text_font_size="14px", text_align="left", text_baseline="middle", text_color=INK)

# Sub-figure captions
FOOT_H = 603 - LEGEND_H - 3 * ROW_H - (TOP_PAD + 95 + LAST_BOTTOM_PAD)
foot = figure(width=861, height=FOOT_H, x_range=Range1d(0, 861), y_range=Range1d(0, FOOT_H),
              x_axis_type=None, y_axis_type=None, output_backend="svg", toolbar_location=None, min_border=0)
foot.outline_line_color = None
foot.text(x=[107, 540], y=[FOOT_H - 16, FOOT_H - 16], text=["(a)", "(b)"], text_font=value(FONT),
          text_font_size="14px", text_align="center", text_baseline="middle", text_color=INK)

layout = column(leg, *rows, foot)
open("out.html", "w").write(file_html(layout, INLINE))
